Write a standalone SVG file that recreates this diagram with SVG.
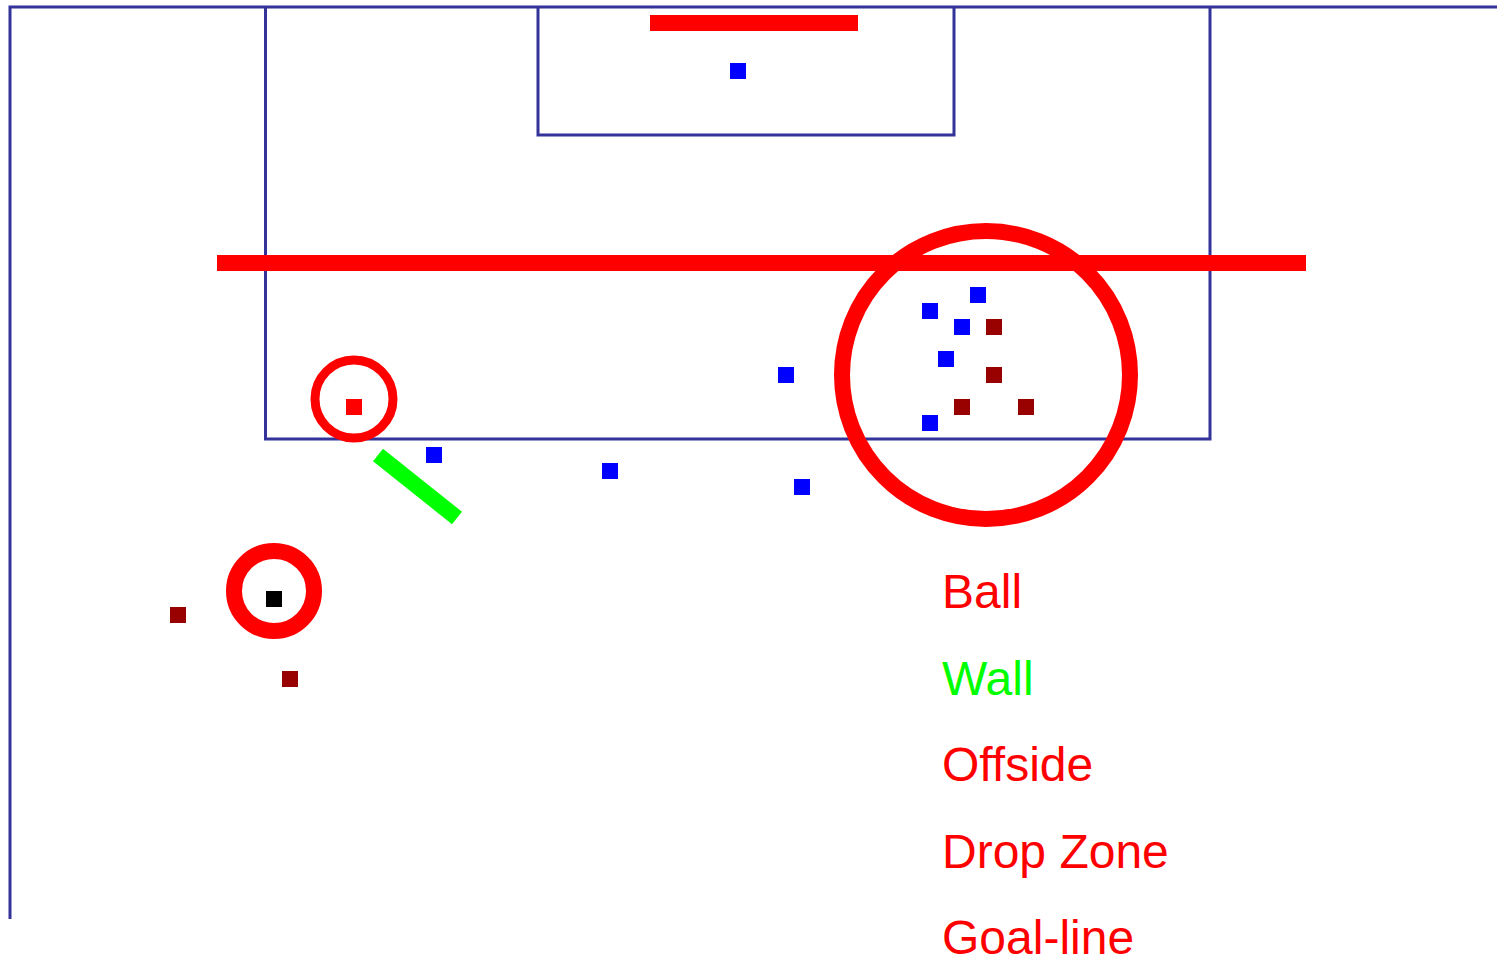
<svg xmlns="http://www.w3.org/2000/svg" width="1497" height="959" viewBox="0 0 1497 959">
<style>
.pitch{stroke:#333399;stroke-width:3;fill:none}
.blue{fill:#0000ff}
.opp{fill:#990000}
.ring{fill:none;stroke:#ff0000}
.lbl{font-family:"Liberation Sans",Arial,sans-serif;font-size:48px}
</style>
<rect width="1497" height="959" fill="#ffffff"/>
<g id="pitch">
<path class="pitch" d="M10,919 V7 H1497"/>
<path class="pitch" d="M265.5,7 V439 H1210 V7"/>
<path class="pitch" d="M538,7 V135 H954 V7"/>
</g>
<g id="goal-line"><rect x="650" y="15" width="208" height="16" fill="#ff0000"/></g>
<g id="offside-line"><rect x="217" y="255" width="1089" height="16" fill="#ff0000"/></g>
<g id="drop-zone"><circle class="ring" cx="986" cy="375" r="144" stroke-width="16"/></g>
<g id="ball-marker">
<circle class="ring" cx="354" cy="399" r="39" stroke-width="9"/>
<rect x="346" y="399" width="16" height="16" fill="#ff0000"/>
</g>
<g id="ball-start">
<circle class="ring" cx="274" cy="591" r="40" stroke-width="16"/>
<rect x="266" y="591" width="16" height="16" fill="#000000"/>
</g>
<g id="wall"><line x1="378" y1="455" x2="457" y2="518" stroke="#00ff00" stroke-width="16"/></g>
<g id="players">
<rect class="blue" x="730" y="63" width="16" height="16"/>
<rect class="blue" x="426" y="447" width="16" height="16"/>
<rect class="blue" x="602" y="463" width="16" height="16"/>
<rect class="blue" x="778" y="367" width="16" height="16"/>
<rect class="blue" x="794" y="479" width="16" height="16"/>
<rect class="blue" x="970" y="287" width="16" height="16"/>
<rect class="blue" x="922" y="303" width="16" height="16"/>
<rect class="blue" x="954" y="319" width="16" height="16"/>
<rect class="blue" x="938" y="351" width="16" height="16"/>
<rect class="blue" x="922" y="415" width="16" height="16"/>
<rect class="opp" x="986" y="319" width="16" height="16"/>
<rect class="opp" x="986" y="367" width="16" height="16"/>
<rect class="opp" x="954" y="399" width="16" height="16"/>
<rect class="opp" x="1018" y="399" width="16" height="16"/>
<rect class="opp" x="170" y="607" width="16" height="16"/>
<rect class="opp" x="282" y="671" width="16" height="16"/>
</g>
<g id="legend">
<text class="lbl" x="942" y="608" fill="#ff0000">Ball</text>
<text class="lbl" x="942" y="695" fill="#00ff00">Wall</text>
<text class="lbl" x="942" y="781" fill="#ff0000">Offside</text>
<text class="lbl" x="942" y="868" fill="#ff0000">Drop Zone</text>
<text class="lbl" x="942" y="954" fill="#ff0000">Goal-line</text>
</g>
</svg>
